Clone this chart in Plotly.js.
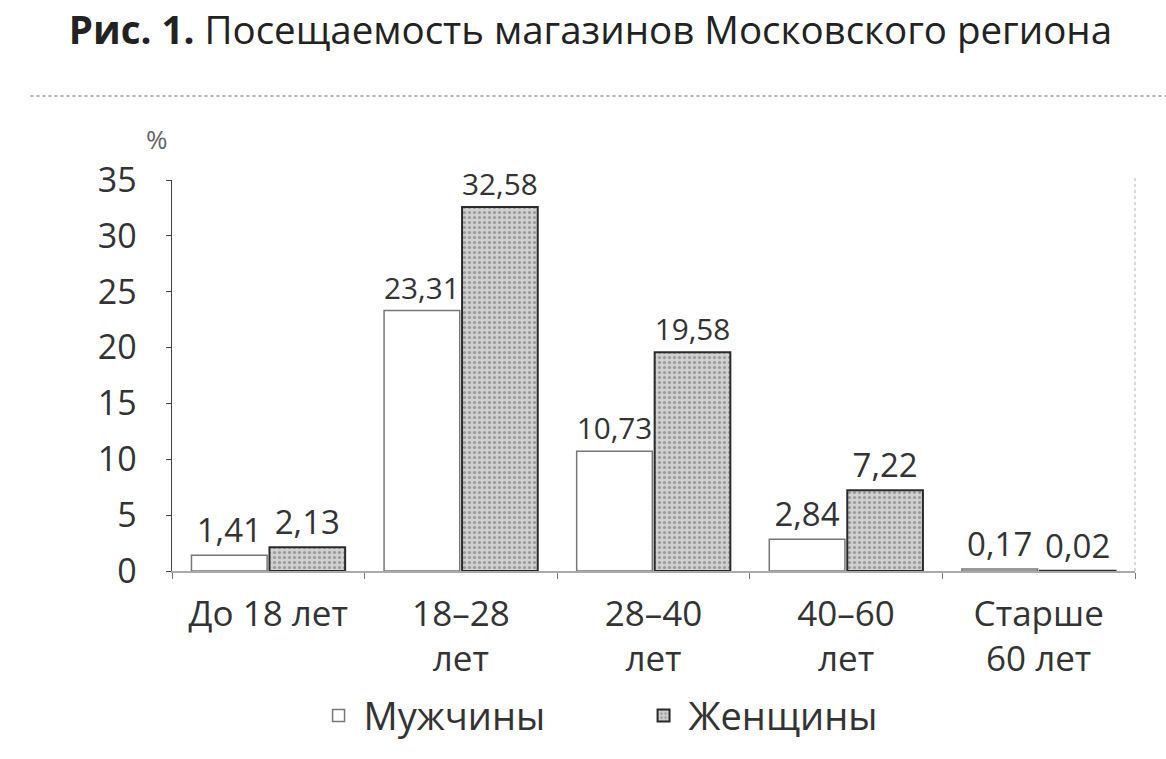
<!DOCTYPE html>
<html><head><meta charset="utf-8">
<script src="https://cdn.plot.ly/plotly-3.0.1.min.js"></script>
<style>html,body{margin:0;padding:0;background:#fff}#chart{width:1166px;height:759px}</style>
</head><body><div id="chart"></div>
<script>
const categories = ["До 18 лет", "18–28<br>лет", "28–40<br>лет", "40–60<br>лет", "Старше<br>60 лет"];
const men = [1.41, 23.31, 10.73, 2.84, 0.17];
const women = [2.13, 32.58, 19.58, 7.22, 0.02];
const yTicks = [0, 5, 10, 15, 20, 25, 30, 35];
const seriesNames = ["Мужчины", "Женщины"];

const FONT = "Open Sans, Noto Sans, sans-serif";
const TXT = "#333";
const txtFont = {family: FONT, size: 33, color: TXT};

const traces = [
  {type: "bar", name: seriesNames[0], x: categories, y: men,
   marker: {color: "#ffffff", line: {color: "#777", width: 1.5}},
   texttemplate: "%{y:.2f}", textposition: "outside", cliponaxis: false,
   textfont: txtFont},
  {type: "bar", name: seriesNames[1], x: categories, y: women,
   marker: {color: "#c6c6c6", line: {color: "#2a2a2a", width: 2},
            pattern: {shape: ".", fgcolor: "#9a9a9a", bgcolor: "#d0d0d0", size: 5, solidity: 0.3}},
   texttemplate: "%{y:.2f}", textposition: "outside", cliponaxis: false,
   textfont: txtFont}
];

const layout = {
  width: 1166, height: 759,
  margin: {l: 172, r: 31, t: 180, b: 186},
  paper_bgcolor: "#fff", plot_bgcolor: "#fff",
  separators: ", ",
  barmode: "group", bargap: 0.19, bargroupgap: 0.03,
  font: {family: FONT, color: TXT},
  title: {text: "<b>Рис. 1.</b> Посещаемость магазинов Московского региона",
          x: 0.059, xanchor: "left", y: 0.96, yanchor: "middle",
          font: {family: FONT, size: 38.5, color: "#222"}},
  xaxis: {showline: true, linecolor: "#aaa", linewidth: 1.5,
          ticks: "outside", tickson: "boundaries", ticklen: 6, tickcolor: "#777",
          tickfont: {family: FONT, size: 35, color: TXT}, showgrid: false,
          ticklabelstandoff: 11},
  yaxis: {range: [0, 35], tickvals: yTicks, showline: true, linecolor: "#444", linewidth: 1.5,
          ticks: "outside", ticklen: 5, tickcolor: "#444", showgrid: false, zeroline: false,
          tickfont: {family: FONT, size: 34, color: TXT}, ticklabelstandoff: 22},
  showlegend: true,
  legend: {orientation: "h", x: 0.147, xanchor: "left", y: -0.29, yanchor: "top",
           font: {family: FONT, size: 38, color: TXT}, itemwidth: 40, traceorder: "normal",
           entrywidth: 270},
  shapes: [
    {type: "line", xref: "paper", yref: "paper", x0: -0.147, x1: 1.04, y0: 1.215, y1: 1.215,
     line: {color: "#999", width: 1.5, dash: "dot"}},
    {type: "line", xref: "paper", yref: "paper", x0: 1, x1: 1, y0: 0, y1: 1.01,
     line: {color: "#ccc", width: 1.5, dash: "dot"}}
  ],
  annotations: [
    {text: "%", xref: "paper", yref: "paper", x: -0.002, y: 1.105, xanchor: "right", yanchor: "middle",
     showarrow: false, font: {family: FONT, size: 26, color: "#666"}}
  ]
};

Plotly.newPlot("chart", traces, layout, {displayModeBar: false, staticPlot: true});
</script></body></html>
